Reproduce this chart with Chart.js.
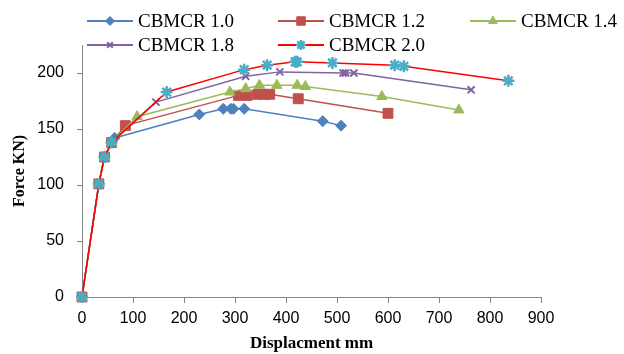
<!DOCTYPE html>
<html>
<head>
<meta charset="utf-8">
<script src="https://cdn.jsdelivr.net/npm/chart.js@4.4.1/dist/chart.umd.min.js"></script>
<style>
   html, body { margin: 0; padding: 0; background: #ffffff; }
   #wrap { width: 624px; height: 354px; }
</style>
</head>
<body>
<div id="wrap"><canvas id="force-chart" width="624" height="354"></canvas></div>
<script>
/*=======================================
 data
========================================*/
var seriesNames = ['CBMCR 1.0', 'CBMCR 1.2', 'CBMCR 1.4', 'CBMCR 1.8', 'CBMCR 2.0'];

var disp10 = [0, 33, 44, 64, 230, 277, 292, 297, 318, 472, 508];
var force10 = [0, 101, 125, 142, 163, 168, 168, 168, 168, 157, 153];

var disp12 = [0, 33, 44, 58, 85, 307, 324, 345, 357, 368, 424, 600];
var force12 = [0, 101, 125, 138, 153, 180, 180, 181, 181, 181, 177, 164];

var disp14 = [0, 33, 44, 58, 108, 290, 321, 348, 382, 422, 438, 588, 739];
var force14 = [0, 101, 125, 138, 161, 183, 186, 189, 189, 189, 188, 179, 167];

var disp18 = [0, 33, 44, 58, 145, 321, 388, 512, 517, 533, 763];
var force18 = [0, 101, 125, 138, 174, 197, 201, 200, 200, 200, 185];

var disp20 = [0, 33, 44, 58, 166, 318, 363, 418, 422, 491, 613, 631, 836];
var force20 = [0, 101, 125, 138, 183, 203, 207, 210, 210, 209, 207, 206, 193];

var xTicks = [0, 100, 200, 300, 400, 500, 600, 700, 800, 900];
var yTicks = [0, 50, 100, 150, 200];

// turn two arrays into {x, y} points
function toPoints(xs, ys) {
   return xs.map(function (x, i) { return { x: x, y: ys[i] }; });
}

/*=======================================
 legend drawn by hand (3 columns, 2 rows)
========================================*/
var legendPlugin = {
   id: 'gridLegend',
   afterDraw: function (chart) {
      var ctx = chart.ctx;
      var cols = [87, 278, 470];
      var rows = [21, 45];
      chart.data.datasets.forEach(function (ds, i) {
         var x = cols[i % 3];
         var y = rows[Math.floor(i / 3)];
         ctx.save();
         ctx.strokeStyle = ds.borderColor;
         ctx.lineWidth = 1.8;
         ctx.beginPath();
         ctx.moveTo(x, y);
         ctx.lineTo(x + 46, y);
         ctx.stroke();
         ctx.fillStyle = ds.pointBackgroundColor;
         ctx.strokeStyle = ds.pointBorderColor;
         ctx.lineWidth = ds.pointBorderWidth;
         Chart.helpers.drawPoint(ctx, {
            pointStyle: ds.pointStyle,
            radius: ds.pointRadius - 1,
            borderWidth: ds.pointBorderWidth,
            rotation: 0
         }, x + 23, y);
         ctx.fillStyle = '#000000';
         ctx.font = '19px "Liberation Serif"';
         ctx.textBaseline = 'middle';
         ctx.textAlign = 'left';
         ctx.fillText(ds.label, x + 51, y + 1);
         ctx.restore();
      });
   }
};

/*=======================================
 chart
========================================*/
var ctx = document.getElementById('force-chart');

var forceChart = new Chart(ctx, {
   type: 'scatter',
   data: {
      datasets: [
         {
            label: seriesNames[0],
            data: toPoints(disp10, force10),
            showLine: true,
            clip: false,
            borderColor: '#4F81BD',
            borderWidth: 1.5,
            pointStyle: 'rectRot',
            pointRadius: 5.5,
            pointBackgroundColor: '#4F81BD',
            pointBorderColor: '#4F81BD',
            pointBorderWidth: 1,
            order: 4
         },
         {
            label: seriesNames[1],
            data: toPoints(disp12, force12),
            showLine: true,
            clip: false,
            borderColor: '#C0504D',
            borderWidth: 1.5,
            pointStyle: 'rect',
            pointRadius: 7,
            pointBackgroundColor: '#C0504D',
            pointBorderColor: '#C0504D',
            pointBorderWidth: 1,
            order: 3
         },
         {
            label: seriesNames[2],
            data: toPoints(disp14, force14),
            showLine: true,
            clip: false,
            borderColor: '#9BBB59',
            borderWidth: 1.5,
            pointStyle: 'triangle',
            pointRadius: 6,
            pointBackgroundColor: '#9BBB59',
            pointBorderColor: '#9BBB59',
            pointBorderWidth: 1,
            order: 2
         },
         {
            label: seriesNames[3],
            data: toPoints(disp18, force18),
            showLine: true,
            clip: false,
            borderColor: '#8064A2',
            borderWidth: 1.5,
            pointStyle: 'crossRot',
            pointRadius: 5,
            pointBackgroundColor: '#8064A2',
            pointBorderColor: '#8064A2',
            pointBorderWidth: 2,
            order: 1
         },
         {
            label: seriesNames[4],
            data: toPoints(disp20, force20),
            showLine: true,
            clip: false,
            borderColor: '#FF0000',
            borderWidth: 1.5,
            pointStyle: 'star',
            pointRadius: 6,
            pointBackgroundColor: '#4BACC6',
            pointBorderColor: '#4BACC6',
            pointBorderWidth: 2.5,
            order: 0
         }
      ]
   },
   options: {
      responsive: false,
      animation: { duration: 0 },
      layout: { padding: { top: 45, right: 83, left: 0, bottom: 0 } },
      plugins: {
         legend: { display: false },
         tooltip: { enabled: false }
      },
      scales: {
         x: {
            type: 'linear',
            min: 0,
            max: 900,
            afterFit: function (scale) { scale.height = 57; },
            afterBuildTicks: function (scale) {
               scale.ticks = xTicks.map(function (v) { return { value: v }; });
            },
            ticks: {
               padding: 6,
               color: '#000000',
               font: { family: '"Liberation Sans"', size: 16 }
            },
            grid: { drawOnChartArea: false, drawTicks: true, tickLength: 6, color: '#868686' },
            border: { color: '#868686', width: 1 },
            title: {
               display: true,
               text: 'Displacment mm',
               color: '#000000',
               font: { family: '"Liberation Serif"', size: 17, weight: 'bold' },
               padding: { top: 0, bottom: 0 }
            }
         },
         y: {
            type: 'linear',
            min: 0,
            max: 225,
            afterFit: function (scale) { scale.width = 82; },
            afterBuildTicks: function (scale) {
               scale.ticks = yTicks.map(function (v) { return { value: v }; });
            },
            ticks: {
               padding: 13,
               color: '#000000',
               font: { family: '"Liberation Sans"', size: 16 }
            },
            grid: { drawOnChartArea: false, drawTicks: true, tickLength: 5, color: '#868686' },
            border: { color: '#868686', width: 1 },
            title: {
               display: true,
               text: 'Force KN)',
               color: '#000000',
               font: { family: '"Liberation Serif"', size: 16, weight: 'bold' },
               padding: { top: 10, bottom: 0 }
            }
         }
      }
   },
   plugins: [legendPlugin]
});
</script>
</body>
</html>
